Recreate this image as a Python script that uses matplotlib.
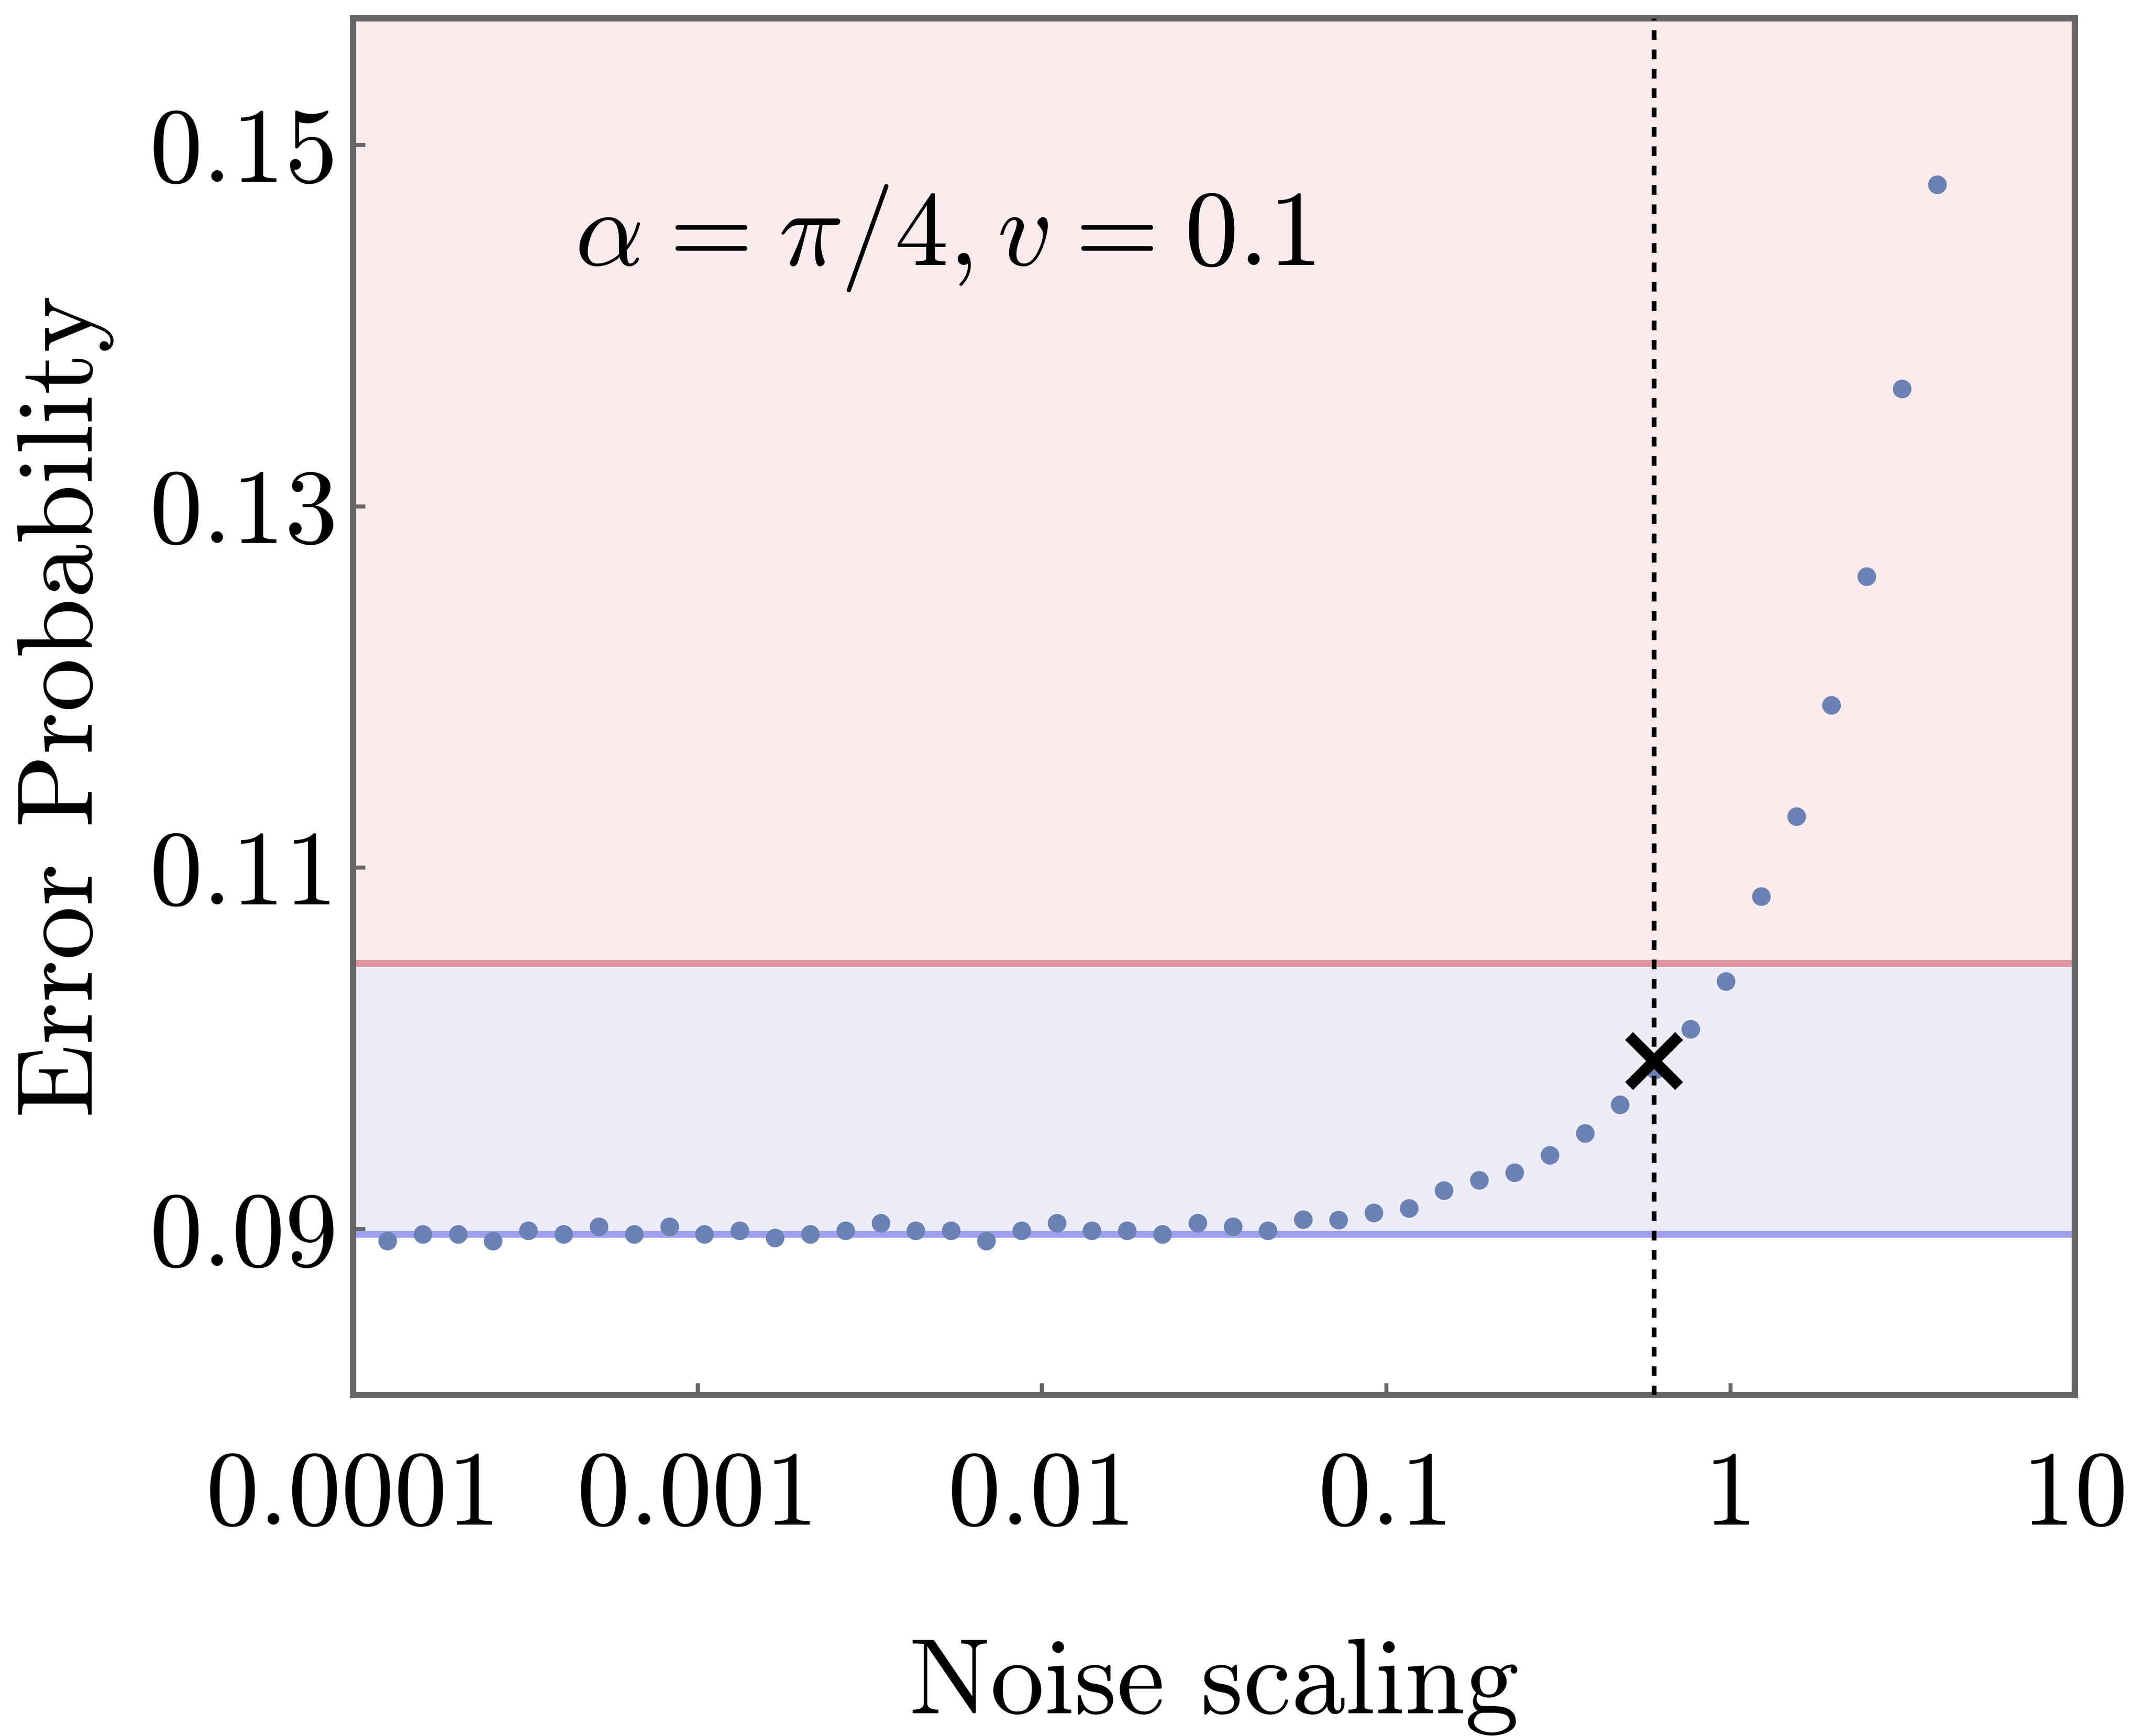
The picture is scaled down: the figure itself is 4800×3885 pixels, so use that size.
import matplotlib
matplotlib.use("Agg")
import matplotlib.pyplot as plt

plt.rcParams['font.family'] = ['cmr10', 'DejaVu Serif']
plt.rcParams['mathtext.fontset'] = 'cm'
plt.rcParams['axes.formatter.use_mathtext'] = True

# noise scaling (log grid) and error probability
noise = [1.259e-4, 1.593e-4, 2.016e-4, 2.551e-4, 3.229e-4, 4.087e-4, 5.171e-4,
         6.544e-4, 8.283e-4, 1.048e-3, 1.327e-3, 1.679e-3, 2.125e-3, 2.689e-3,
         3.403e-3, 4.307e-3, 5.450e-3, 6.898e-3, 8.729e-3, 1.105e-2, 1.398e-2,
         1.769e-2, 2.239e-2, 2.833e-2, 3.585e-2, 4.537e-2, 5.742e-2, 7.267e-2,
         9.196e-2, 0.1164, 0.1473, 0.1864, 0.2359, 0.2985, 0.3778, 0.4781,
         0.6050, 0.7657, 0.9691, 1.226, 1.552, 1.964, 2.486, 3.146, 3.981]
err = [0.08932, 0.08971, 0.08971, 0.08932, 0.08991, 0.08971, 0.09012,
       0.08971, 0.09012, 0.08971, 0.08991, 0.08951, 0.08971, 0.08991,
       0.09031, 0.08991, 0.08991, 0.08932, 0.08991, 0.09031, 0.08991,
       0.08991, 0.08971, 0.09031, 0.09012, 0.08991, 0.09051, 0.09050,
       0.09090, 0.09113, 0.09212, 0.09270, 0.09311, 0.09409, 0.09528,
       0.09688, 0.09880, 0.10106, 0.10369, 0.10840, 0.11283, 0.11898,
       0.12611, 0.13649, 0.14780]

lower_bound = 0.0897
upper_bound = 0.1047
cross_x = 0.6
cross_y = 0.0993

xticks = [1e-4, 1e-3, 1e-2, 1e-1, 1, 10]
xtick_labels = ['0.0001', '0.001', '0.01', '0.1', '1', '10']
yticks = [0.09, 0.11, 0.13, 0.15]
ytick_labels = ['0.09', '0.11', '0.13', '0.15']

fig = plt.figure(figsize=(16, 12.95), dpi=300)
ax = fig.add_axes([0.1646, 0.1964, 0.9673 - 0.1646, 0.9895 - 0.1964])

ax.axhspan(upper_bound, 1.0, color='#F9EBEB', lw=0, zorder=0)
ax.axhspan(lower_bound, upper_bound, color='#EDEDFA', lw=0, zorder=0)
ax.axhline(upper_bound, color='#E096A1', lw=3.8, zorder=1)
ax.axhline(lower_bound, color='#A0A0F2', lw=3.7, zorder=1)

ax.plot(noise, err, 'o', color='#6A82B4', ms=10, mew=0, zorder=3)
ax.axvline(cross_x, color='black', lw=2.6, dashes=(2, 2), zorder=4)
ax.plot([cross_x], [cross_y], 'x', color='black', ms=27, mew=6, zorder=5)

ax.text(4.4e-4, 0.14334,
        r'$\alpha\hspace{0.07}=\hspace{0.07}\pi/4, v\hspace{0.07}=\hspace{0.07}0.1$',
        fontsize=58, ha='left', va='baseline')

ax.set_xscale('log')
ax.set_xlim(1e-4, 10)
ax.set_ylim(0.0808, 0.157)
ax.set_xticks(xticks)
ax.set_xticklabels(xtick_labels)
ax.minorticks_off()
ax.set_yticks(yticks)
ax.set_yticklabels(ytick_labels)

for s in ax.spines.values():
    s.set_color('#666666')
    s.set_linewidth(3.4)
ax.tick_params(direction='in', length=6.5, width=2.2, color='#666666',
               labelsize=57, top=False, right=False)
ax.tick_params(axis='x', pad=30)
ax.tick_params(axis='y', pad=8)

ax.set_xlabel('Noise scaling', fontsize=58, labelpad=50)
ax.set_ylabel('Error Probability', fontsize=58, labelpad=19)

fig.savefig('out.png', dpi=300)
